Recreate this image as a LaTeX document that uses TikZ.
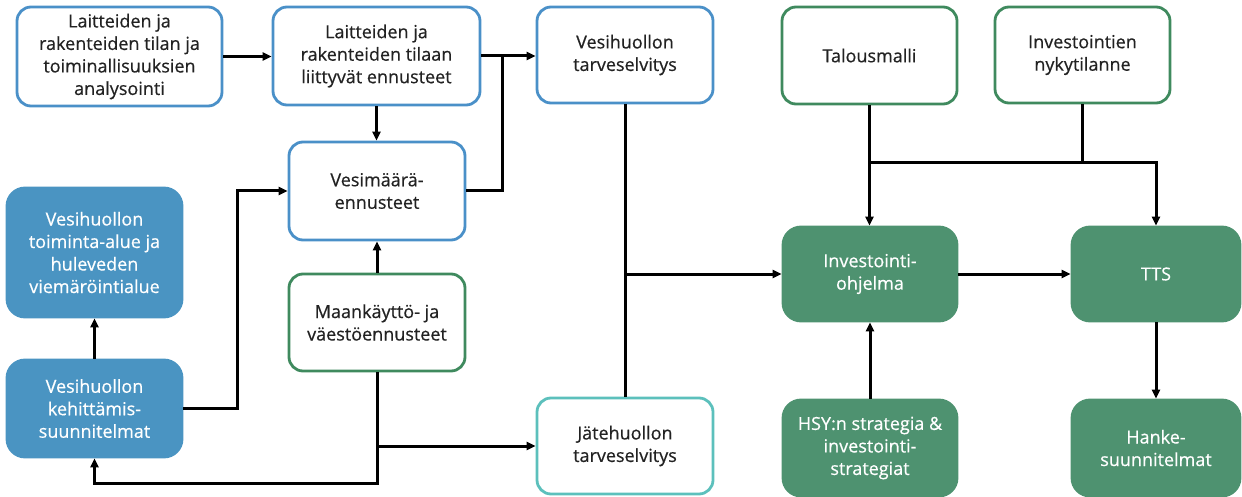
\documentclass[tikz,border=0pt]{standalone}
\usepackage{fontspec}
\setmainfont{Open Sans}[FakeBold=0.5]
\usetikzlibrary{arrows.meta}
\definecolor{bord}{HTML}{4A90C8}
\definecolor{gbord}{HTML}{3F8A5E}
\definecolor{tbord}{HTML}{5CC0BC}
\definecolor{bfill}{HTML}{4A94C2}
\definecolor{gfill}{HTML}{4E9270}
\definecolor{txt}{HTML}{222222}
\tikzset{
  box/.style={rectangle, rounded corners=14pt, line width=2.8pt, align=center,
    font=\fontsize{18}{22.5}\selectfont, text=txt, fill=white, inner sep=2pt},
  bluebox/.style={box, draw=bord},
  greenbox/.style={box, draw=gbord},
  tealbox/.style={box, draw=tbord},
  bfilled/.style={box, draw=bfill, fill=bfill, text=white, rounded corners=18pt},
  gfilled/.style={box, draw=gfill, fill=gfill, text=white, rounded corners=18pt},
  conn/.style={line width=3pt, draw=black},
  arr/.style={conn, -{Triangle[length=9pt,width=8pt]}},
}
\begin{document}
\begin{tikzpicture}[x=1pt,y=-1pt]
\useasboundingbox (0,0) rectangle (1242,497);
\node[bluebox, minimum width=205pt, minimum height=99pt] (A) at (119.5,56.5) {Laitteiden ja\\rakenteiden tilan ja\\toiminallisuuksien\\analysointi};
\node[bluebox, minimum width=207pt, minimum height=98pt] (B) at (376.5,56) {Laitteiden ja\\rakenteiden tilaan\\liittyvät ennusteet};
\node[bluebox, minimum width=176pt, minimum height=96pt] (C) at (625,55) {Vesihuollon\\tarveselvitys};
\node[greenbox, minimum width=175pt, minimum height=97pt] (T) at (869.5,55.5) {Talousmalli};
\node[greenbox, minimum width=175pt, minimum height=96pt] (I) at (1082.5,55) {Investointien\\nykytilanne};
\node[bluebox, minimum width=176pt, minimum height=98pt] (V) at (377,191) {Vesimäärä-\\ennusteet};
\node[bfilled, minimum width=175pt, minimum height=129pt] (TA) at (94.5,252.5) {Vesihuollon\\toiminta-alue ja\\huleveden\\viemäröintialue};
\node[greenbox, minimum width=176pt, minimum height=97pt] (M) at (377,322.5) {Maankäyttö- ja\\väestöennusteet};
\node[bfilled, minimum width=175pt, minimum height=97pt] (K) at (94.5,408.5) {Vesihuollon\\kehittämis-\\suunnitelmat};
\node[tealbox, minimum width=176pt, minimum height=96pt] (J) at (625,446) {Jätehuollon\\tarveselvitys};
\node[gfilled, minimum width=174pt, minimum height=94pt] (P) at (870,274) {Investointi-\\ohjelma};
\node[gfilled, minimum width=168pt, minimum height=94pt] (TTS) at (1156,274) {TTS};
\node[gfilled, minimum width=174pt, minimum height=96pt] (H) at (870,448) {HSY:n strategia \&\\investointi-\\strategiat};
\node[gfilled, minimum width=168pt, minimum height=96pt] (HK) at (1156,448) {Hanke-\\suunnitelmat};

\coordinate (jv) at (502,56);
\coordinate (jt) at (869.5,163);

\draw[arr] (A.east) -- (A.east -| B.west);
\draw[arr] (B.south) -- (B.south |- V.north);
\draw[arr] (B.east) -- (B.east -| C.west);
\draw[conn] (V.east) -| (jv);
\draw[arr] (K.east) -- ++(54,0) |- (V.west);
\draw[arr] (K.north) -- (TA.south);
\draw[arr] (M.north) -- (V.south);
\draw[arr] (M.south) -- ++(0,111) -| (K.south);
\draw[arr] (M.south |- J.west) -- (J.west);
\draw[conn] (C.south) -- (J.north);
\draw[arr] (C.south |- P.west) -- (P.west);
\draw[arr] (T.south) -- (T.south |- P.north);
\draw[conn] (I.south) -- (I.south |- jt);
\draw[arr] (jt) -| (TTS.north);
\draw[arr] (P.east) -- (TTS.west);
\draw[arr] (H.north) -- (P.south);
\draw[arr] (TTS.south) -- (HK.north);
\end{tikzpicture}
\end{document}
